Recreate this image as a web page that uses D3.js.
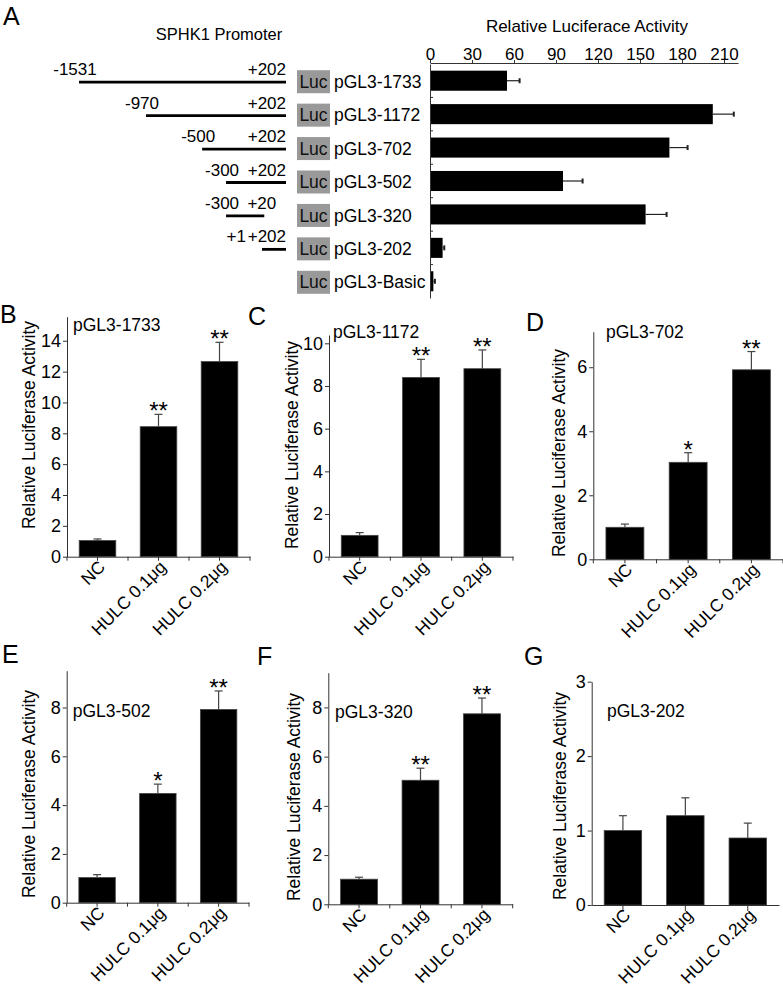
<!DOCTYPE html>
<html><head><meta charset="utf-8">
<script src="https://cdn.jsdelivr.net/npm/d3@7"></script>
<style>
body{margin:0;background:#fff}
svg{display:block;font-family:"Liberation Sans",Arial,Helvetica,sans-serif}
</style>
</head><body>
<svg id="chart" width="783" height="990"></svg>
<script>
// ---------- Panel A data ----------
const constructs = ["pGL3-1733", "pGL3-1172", "pGL3-702", "pGL3-502", "pGL3-320", "pGL3-202", "pGL3-Basic"];
const promoterStart = [-1531, -970, -500, -300, -300, 1, null];
const promoterEnd = [202, 202, 202, 202, 20, 202, null];
const startLabels = ["-1531", "-970", "-500", "-300", "-300", "+1", ""];
const endLabels = ["+202", "+202", "+202", "+202", "+20", "+202", ""];
const activity = [55, 202, 171, 95, 154, 9, 2.4];
const activityErr = [9, 15, 13, 14, 15, 1.2, 1.1];
const activityTicks = [0, 30, 60, 90, 120, 150, 180, 210];

// ---------- Panels B-G data ----------
const groups = ["NC", "HULC 0.1μg", "HULC 0.2μg"];
const valuesB = [1.05, 8.43, 12.65], errorsB = [0.1, 0.8, 1.25], starsB = ["", "**", "**"], ticksB = [0, 2, 4, 6, 8, 10, 12, 14];
const valuesC = [1.0, 8.4, 8.81], errorsC = [0.13, 0.85, 0.88], starsC = ["", "**", "**"], ticksC = [0, 2, 4, 6, 8, 10];
const valuesD = [1.0, 3.03, 5.92], errorsD = [0.1, 0.3, 0.57], starsD = ["", "*", "**"], ticksD = [0, 2, 4, 6];
const valuesE = [1.03, 4.48, 7.92], errorsE = [0.12, 0.38, 0.76], starsE = ["", "*", "**"], ticksE = [0, 2, 4, 6, 8];
const valuesF = [1.02, 5.04, 7.74], errorsF = [0.08, 0.49, 0.64], starsF = ["", "**", "**"], ticksF = [0, 2, 4, 6, 8];
const valuesG = [1.0, 1.2, 0.9], errorsG = [0.2, 0.24, 0.2], starsG = ["", "", ""], ticksG = [0, 1, 2, 3];
const titles = ["pGL3-1733", "pGL3-1172", "pGL3-702", "pGL3-502", "pGL3-320", "pGL3-202"];
const yLabel = "Relative Luciferase Activity";

const svg = d3.select("#chart");
const AX = "#333";

function letter(t, x, y) {
  svg.append("text").attr("x", x).attr("y", y).attr("font-size", 25).attr("fill", "#000").text(t);
}

// ================= Panel A =================
letter("A", 3, 25);
svg.append("text").attr("x", 219).attr("y", 40).attr("text-anchor", "middle")
  .attr("font-size", 16.5).text("SPHK1 Promoter");
svg.append("text").attr("x", 587).attr("y", 32).attr("text-anchor", "middle")
  .attr("font-size", 17).text("Relative Luciferace Activity");

const yA = d3.scaleBand().domain(constructs).range([64, 298]).paddingInner(0.4).paddingOuter(0.2);
const xA = d3.scaleLinear().domain([0, 220]).range([430, 738]);
const pos = d3.scaleLinear().domain([-1531, 202]).range([79, 286]);

const rowsA = constructs.map((c, i) => ({
  c, s: promoterStart[i], e: promoterEnd[i], sl: startLabels[i], el: endLabels[i],
  v: activity[i], err: activityErr[i]
}));

const gA = svg.append("g");
rowsA.forEach(r => {
  const cy = yA(r.c) + yA.bandwidth() / 2;
  if (r.s !== null) {
    const ly = cy + 1.5;
    gA.append("line").attr("x1", pos(r.s)).attr("x2", pos(r.e)).attr("y1", ly).attr("y2", ly)
      .attr("stroke", "#000").attr("stroke-width", 2.8);
    const endX = Math.min(pos(r.e) + 12, 286);
    gA.append("text").attr("x", endX).attr("y", ly - 7).attr("text-anchor", "end")
      .attr("font-size", 17).text(r.el);
    const endW = r.el.length * 9.45;
    const sw = r.sl.length * 9.0;
    let sx = pos(r.s) - 4;
    sx = Math.min(sx, endX - endW - 3 - sw / 2);
    gA.append("text").attr("x", sx).attr("y", ly - 7).attr("text-anchor", "middle")
      .attr("font-size", 17).text(r.sl);
  }
  gA.append("rect").attr("x", 297).attr("y", cy + 1 - 11.5).attr("width", 33).attr("height", 23)
    .attr("fill", "#999");
  gA.append("text").attr("x", 313.5).attr("y", cy + 1).attr("dy", "0.35em").attr("text-anchor", "middle")
    .attr("font-size", 17.5).attr("fill", "#111").text("Luc");
  gA.append("text").attr("x", 334).attr("y", cy + 1).attr("dy", "0.35em")
    .attr("font-size", 17.5).text(r.c);
});

// bars A
gA.selectAll("rect.barA").data(rowsA).join("rect").attr("class", "barA")
  .attr("x", xA(0)).attr("y", d => yA(d.c)).attr("width", d => xA(d.v) - xA(0))
  .attr("height", yA.bandwidth()).attr("fill", "#000");
gA.selectAll("line.errA").data(rowsA).join("line").attr("class", "errA")
  .attr("x1", d => xA(d.v)).attr("x2", d => xA(d.v + d.err))
  .attr("y1", d => yA(d.c) + yA.bandwidth() / 2).attr("y2", d => yA(d.c) + yA.bandwidth() / 2)
  .attr("stroke", "#222").attr("stroke-width", 1.2);
gA.selectAll("line.capA").data(rowsA).join("line").attr("class", "capA")
  .attr("x1", d => xA(d.v + d.err)).attr("x2", d => xA(d.v + d.err))
  .attr("y1", d => yA(d.c) + yA.bandwidth() / 2 - 2.5).attr("y2", d => yA(d.c) + yA.bandwidth() / 2 + 2.5)
  .attr("stroke", "#222").attr("stroke-width", 2);

// axes A
const axA = svg.append("g").attr("transform", "translate(0,63)")
  .call(d3.axisTop(xA).tickValues(activityTicks).tickSize(3).tickSizeOuter(0).tickPadding(0));
axA.selectAll("text").attr("font-size", 17).attr("fill", "#000").attr("font-family", null);
axA.selectAll("line,path").attr("stroke", AX);

const ayA = svg.append("g").attr("transform", "translate(430,0)")
  .call(d3.axisLeft(yA).tickSize(0).tickSizeOuter(0).tickFormat(""));
ayA.selectAll("path").attr("stroke", AX);
const boundsA = constructs.slice(1).map(c => yA(c) - yA.step() * yA.paddingInner() / 2);
svg.selectAll("line.tickA").data(boundsA).join("line").attr("class", "tickA")
  .attr("x1", 430).attr("x2", 433).attr("y1", d => d).attr("y2", d => d).attr("stroke", AX);

// ================= Panels B-G =================
const panels = [
  {L: "B", lx: 0, ly: 323, left: 67, right: 250, y0: 556.7, top: 316.7, max: 15.56, tx: 73, ty: 331, labX: 34.5, labY: 425, vals: valuesB, errs: errorsB, stars: starsB, ticks: ticksB, bt: true},
  {L: "C", lx: 248, ly: 325, left: 329, right: 513, y0: 556.7, top: 335, max: 10.39, tx: 333, ty: 338, labX: 298, labY: 445, vals: valuesC, errs: errorsC, stars: starsC, ticks: ticksC, bt: true},
  {L: "D", lx: 526, ly: 331, left: 593.3, right: 783, y0: 559.3, top: 331.7, max: 7.11, tx: 606, ty: 338, labX: 565, labY: 453, vals: valuesD, errs: errorsD, stars: starsD, ticks: ticksD, bt: true},
  {L: "E", lx: 2, ly: 663, left: 66.7, right: 249, y0: 902.7, top: 670.7, max: 9.51, tx: 72.7, ty: 717, labX: 35, labY: 794, vals: valuesE, errs: errorsE, stars: starsE, ticks: ticksE, bt: true},
  {L: "F", lx: 257, ly: 665, left: 328.3, right: 512.7, y0: 904.3, top: 672.7, max: 9.41, tx: 335, ty: 718, labX: 300, labY: 797, vals: valuesF, errs: errorsF, stars: starsF, ticks: ticksF, bt: true},
  {L: "G", lx: 524, ly: 665, left: 591.7, right: 779, y0: 905, top: 681.7, max: 3, tx: 607, ty: 717, labX: 566, labY: 796, vals: valuesG, errs: errorsG, stars: starsG, ticks: ticksG, bt: false}
];

panels.forEach((p, pi) => {
  letter(p.L, p.lx, p.ly);
  const x = d3.scaleBand().domain(groups).range([p.left, p.right]).paddingInner(0.4).paddingOuter(0.2);
  const y = d3.scaleLinear().domain([0, p.max]).range([p.y0, p.top]);
  const g = svg.append("g");
  const data = groups.map((k, i) => ({k, v: p.vals[i], e: p.errs[i], s: p.stars[i]}));

  g.selectAll("rect").data(data).join("rect")
    .attr("x", d => x(d.k)).attr("y", d => y(d.v)).attr("width", x.bandwidth())
    .attr("height", d => y(0) - y(d.v)).attr("fill", "#000").attr("stroke", "#444").attr("stroke-width", 0.8);
  const cx = d => x(d.k) + x.bandwidth() / 2;
  g.selectAll("line.err").data(data).join("line").attr("class", "err")
    .attr("x1", cx).attr("x2", cx).attr("y1", d => y(d.v)).attr("y2", d => y(d.v + d.e))
    .attr("stroke", "#444").attr("stroke-width", 1.2);
  g.selectAll("line.cap").data(data).join("line").attr("class", "cap")
    .attr("x1", d => cx(d) - 4).attr("x2", d => cx(d) + 4).attr("y1", d => y(d.v + d.e)).attr("y2", d => y(d.v + d.e))
    .attr("stroke", "#444").attr("stroke-width", 1.2);
  g.selectAll("text.star").data(data).join("text").attr("class", "star")
    .attr("x", cx).attr("y", d => y(d.v + d.e) + 5).attr("text-anchor", "middle")
    .attr("font-size", 24).text(d => d.s);

  // y axis
  const ay = svg.append("g").attr("transform", `translate(${p.left},0)`)
    .call(d3.axisLeft(y).tickValues(p.ticks).tickSize(4).tickSizeOuter(0).tickPadding(2).tickFormat(d3.format("d")));
  ay.selectAll("text").attr("font-size", 18).attr("fill", "#000").attr("font-family", null);
  ay.selectAll("line,path").attr("stroke", AX);

  // x axis
  const ax = svg.append("g").attr("transform", `translate(0,${p.y0})`)
    .call(d3.axisBottom(x).tickSize(p.bt ? 4 : 6).tickSizeOuter(0).tickPadding(0));
  ax.selectAll("line,path").attr("stroke", AX);
  ax.selectAll("text").attr("font-size", 17.5).attr("fill", "#000").attr("font-family", null)
    .attr("text-anchor", "end").attr("x", -2).attr("y", 8).attr("dy", "0.35em")
    .attr("transform", "rotate(-45)");
  if (p.bt) {
    const bounds = [p.left].concat(groups.slice(1).map(k => x(k) - x.step() * 0.2), [p.right]);
    svg.append("g").selectAll("line").data(bounds).join("line")
      .attr("x1", d => d).attr("x2", d => d).attr("y1", p.y0).attr("y2", p.y0 + 4).attr("stroke", AX);
  }

  svg.append("text").attr("x", p.tx).attr("y", p.ty).attr("font-size", 17.5).text(titles[pi]);
  svg.append("text").attr("transform", `translate(${p.labX},${p.labY}) rotate(-90)`)
    .attr("text-anchor", "middle").attr("font-size", 17.5).text(yLabel);
});
</script>
</body></html>
